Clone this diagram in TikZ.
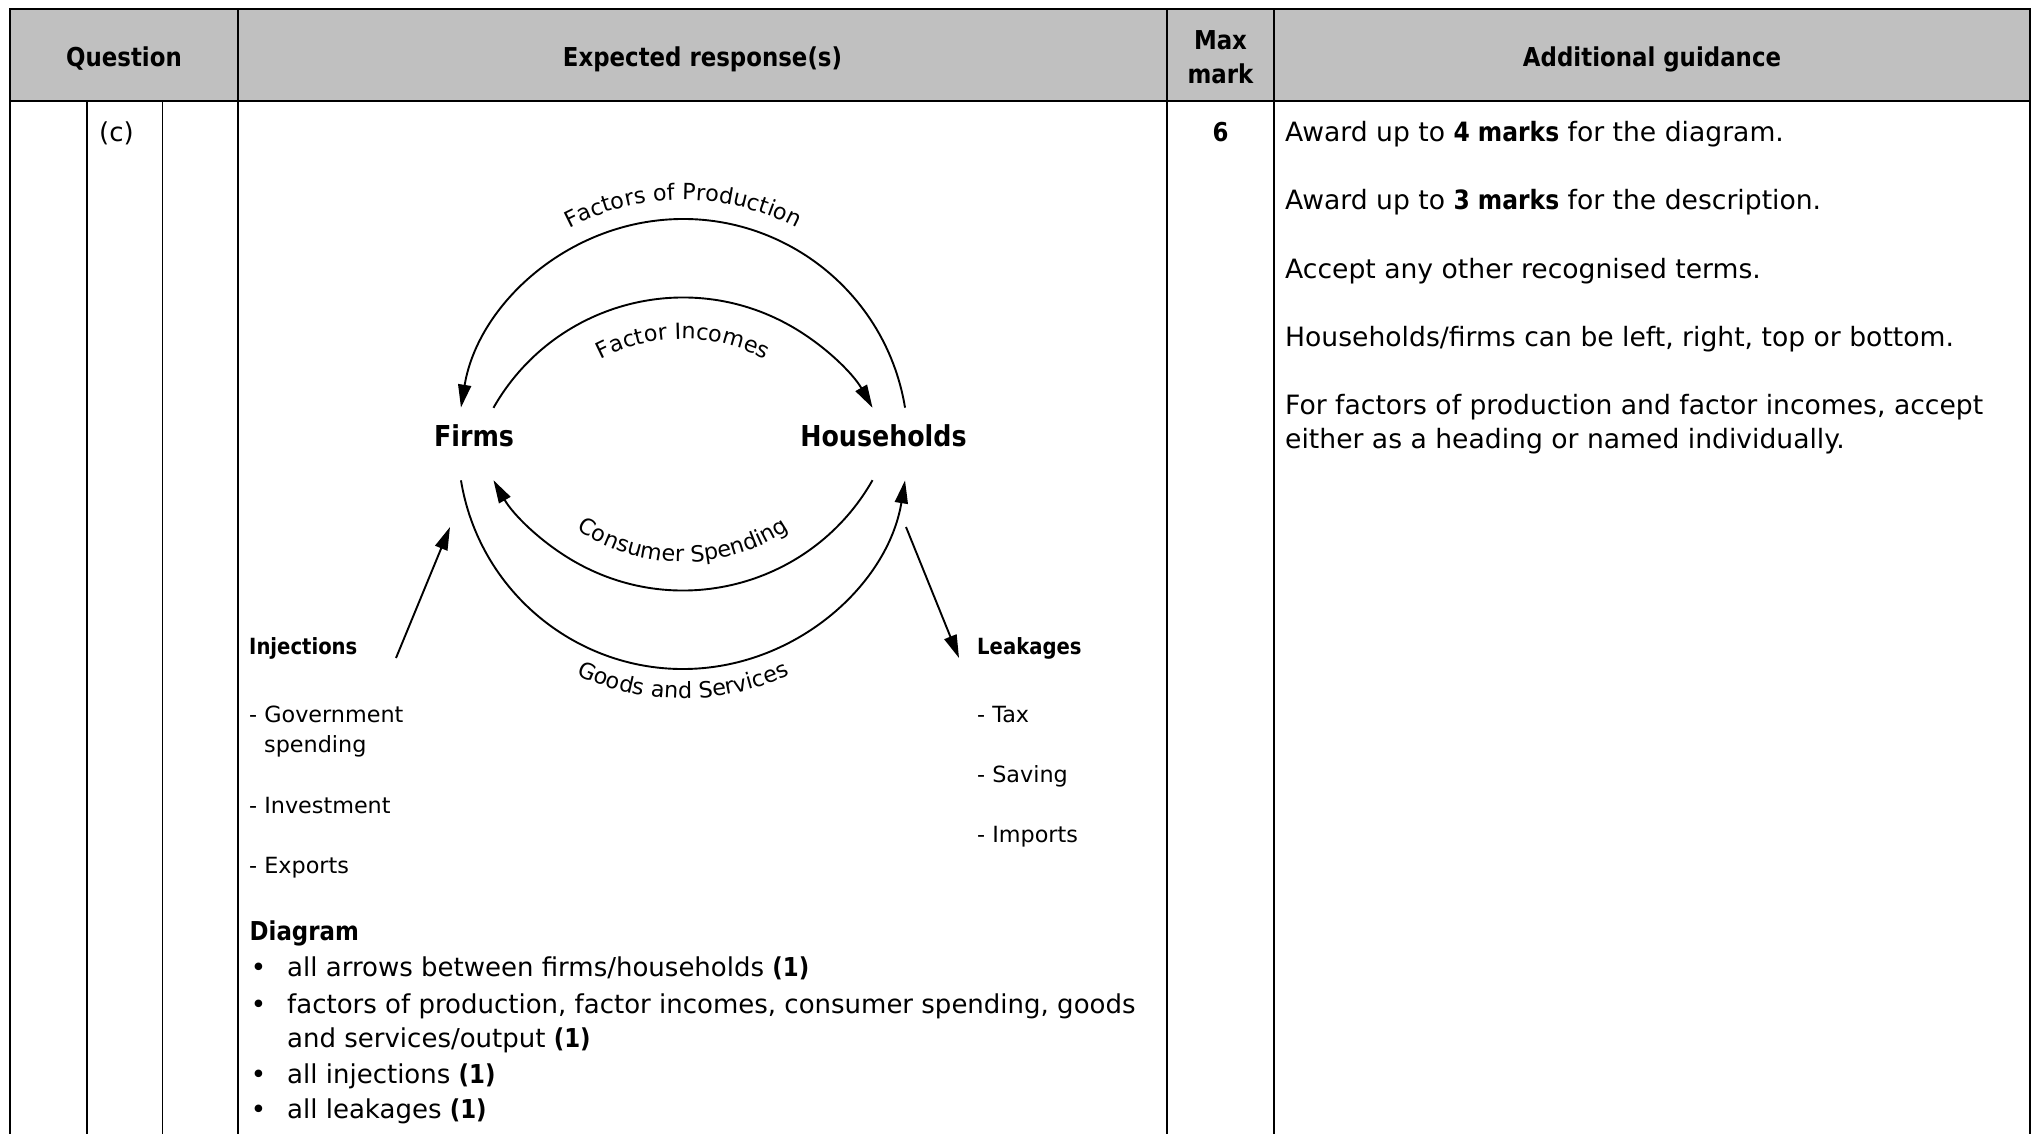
\documentclass[tikz,border=0pt]{standalone}
\usepackage{fontspec}
\setmainfont{DejaVu Sans}[BoldFeatures={FakeStretch=0.88}]
\usetikzlibrary{arrows.meta,calc,decorations.text}

\definecolor{headgray}{RGB}{192,192,192}
\newcommand\bodyfont{\fontsize{26}{34}\selectfont}
\newcommand\notefont{\fontsize{26.6}{34}\selectfont}
\newcommand\listfont{\fontsize{22.3}{30}\selectfont}
\newcommand\agentfont{\fontsize{28.8}{34}\selectfont\bfseries}

\begin{document}
\begin{tikzpicture}[x=1pt,y=-1pt,
  txt/.style={inner sep=0pt, anchor=base west, font=\bodyfont},
  note/.style={inner sep=0pt, anchor=base west, font=\notefont},
  ctxt/.style={inner sep=0pt, anchor=base, font=\bodyfont},
  lst/.style={inner sep=0pt, anchor=base west, font=\listfont},
  agent/.style={inner sep=0pt, anchor=base, font=\agentfont},
  rule/.style={line width=1.6pt},
  frame/.style={line width=2.2pt},
  flow/.style={line width=1.9pt, -{Triangle[length=23pt,width=13pt]}},
  curved/.style={decorate, decoration={text along path, text align=center,
                 text={|\listfont|#1}}}
]
\useasboundingbox (0,0) rectangle (2038,1134);

% ---------- table frame ----------
\fill[headgray] (10,9) rectangle (2030,101);
\draw[frame] (10,1134) -- (10,9) -- (2030,9) -- (2030,1134);
\draw[rule] (10,101) -- (2030,101);
\draw[rule] (238,9) -- (238,1134);
\draw[rule] (1167,9) -- (1167,1134);
\draw[rule] (1274,9) -- (1274,1134);
\draw[rule] (87,101) -- (87,1134);
\draw[rule] (162.5,101) -- (162.5,1134);

% ---------- header ----------
\node[ctxt, font=\bodyfont\bfseries] (hq) at (124,67) {Question};
\node[ctxt, font=\bodyfont\bfseries] (he) at (702.5,67) {Expected response(s)};
\node[ctxt, font=\bodyfont\bfseries] (hm1) at (1220.5,50) {Max};
\node[ctxt, font=\bodyfont\bfseries] (hm2) at (1220.5,84) {mark};
\node[ctxt, font=\bodyfont\bfseries] (hg) at (1652,67) {Additional guidance};

% ---------- row (c) ----------
\node[txt] (part) at (99,142) {(c)};
\node[ctxt, font=\bodyfont\bfseries] (mark) at (1220.5,142) {6};

\node[note] (g1) at (1285,142) {Award up to \textbf{4 marks} for the diagram.};
\node[note] (g2) at (1285,210) {Award up to \textbf{3 marks} for the description.};
\node[note] (g3) at (1285,278) {Accept any other recognised terms.};
\node[note] (g4) at (1285,346) {Households/firms can be left, right, top or bottom.};
\node[note] (g5a) at (1285,414) {For factors of production and factor incomes, accept};
\node[note] (g5b) at (1285,448) {either as a heading or named individually.};

% ---------- circular flow ----------
\coordinate (O) at (683,444);
\coordinate (Oup) at (683,515.5);
\coordinate (Olow) at (683,372.5);

\node[agent] (firms) at (474,446.7) {Firms};
\node[agent] (hh) at (883.5,446.7) {Households};

\coordinate (fp-s) at ($(O)+(9.3:225pt)$);
\coordinate (fi-s) at ($(Oup)+(150.4:218pt)$);
\coordinate (cs-s) at ($(Olow)+(-29.6:218pt)$);
\coordinate (gs-s) at ($(O)+(189.3:225pt)$);

% factors of production: households -> firms
\draw[flow] (fp-s) arc[start angle=9.3, end angle=170.7, radius=225pt];
% factor incomes: firms -> households
\draw[flow] (fi-s) arc[start angle=150.4, end angle=29.6, radius=218pt];
% consumer spending: households -> firms
\draw[flow] (cs-s) arc[start angle=-29.6, end angle=-150.4, radius=218pt];
% goods and services: firms -> households
\draw[flow] (gs-s) arc[start angle=189.3, end angle=350.7, radius=225pt];

\path[curved=Factors of Production] ($(O)+(150:244pt)$) arc[start angle=150, end angle=30, radius=244pt];
\path[curved=Factor Incomes] ($(Oup)+(150:176.5pt)$) arc[start angle=150, end angle=30, radius=176.5pt];
\path[curved=Consumer Spending] ($(Olow)+(210:189.5pt)$) arc[start angle=210, end angle=330, radius=189.5pt];
\path[curved=Goods and Services] ($(O)+(210:254.5pt)$) arc[start angle=210, end angle=330, radius=254.5pt];

% injections and leakages
\coordinate (inj-foot) at (396,658);
\coordinate (inj-tip) at (450,527);
\coordinate (leak-root) at (906,527);
\coordinate (leak-tip) at (959,658);
\draw[flow] (inj-foot) -- (inj-tip);
\draw[flow] (leak-root) -- (leak-tip);

\node[lst, font=\listfont\bfseries] (inj) at (249,654) {Injections};
\node[lst] (inj1) at (249,722) {- Government};
\node[lst] (inj1b) at (264,752) {spending};
\node[lst] (inj2) at (249,813) {- Investment};
\node[lst] (inj3) at (249,873) {- Exports};

\node[lst, font=\listfont\bfseries] (leak) at (977,654) {Leakages};
\node[lst] (leak1) at (977,722) {- Tax};
\node[lst] (leak2) at (977,782) {- Saving};
\node[lst] (leak3) at (977,842) {- Imports};

% ---------- marking points ----------
\node[txt, font=\bodyfont\bfseries] (crit) at (249.5,940) {Diagram};
\node[ctxt] (b1) at (258.6,976.5) {•};
\node[txt] (c1) at (287,976.5) {all arrows between firms/households \textbf{(1)}};
\node[ctxt] (b2) at (258.6,1013) {•};
\node[txt] (c2) at (287,1013) {factors of production, factor incomes, consumer spending, goods};
\node[txt] (c2b) at (287,1047) {and services/output \textbf{(1)}};
\node[ctxt] (b3) at (258.6,1083) {•};
\node[txt] (c3) at (287,1083) {all injections \textbf{(1)}};
\node[ctxt] (b4) at (258.6,1118) {•};
\node[txt] (c4) at (287,1118) {all leakages \textbf{(1)}};
\end{tikzpicture}
\end{document}
